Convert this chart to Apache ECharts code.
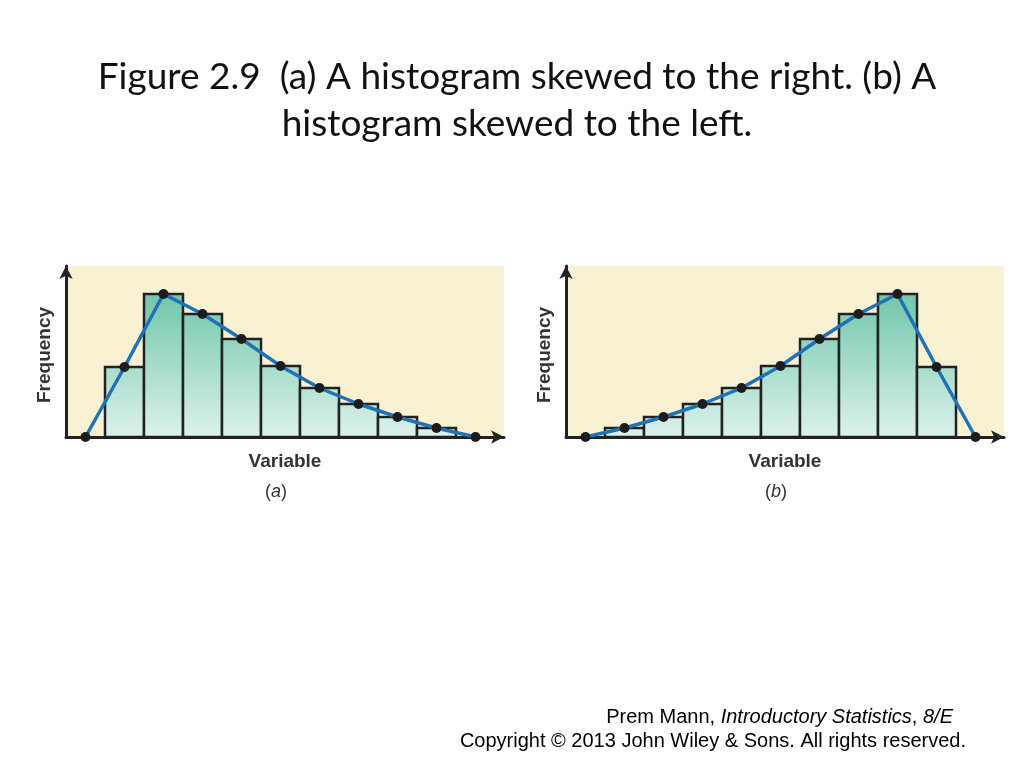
<!DOCTYPE html>
<html>
<head>
<meta charset="utf-8">
<script src="https://cdn.jsdelivr.net/npm/echarts@6/dist/echarts.min.js"></script>
<style>
html,body{margin:0;padding:0;background:#fff;}
#chart{width:1024px;height:768px;}
</style>
</head>
<body>
<div id="chart"></div>
<script>
// Bin centres (in bin-width units) and frequencies
const binCenters = [1.5, 2.5, 3.5, 4.5, 5.5, 6.5, 7.5, 8.5, 9.5];
const freqA = [70, 143, 123, 98, 71, 49, 33, 20, 9];   // skewed right
const freqB = [9, 20, 33, 49, 71, 98, 123, 143, 70];   // skewed left
const polygonEnds = [0.5, 10.5];
const titleLines = ['Figure 2.9  (a) A histogram skewed to the right. (b) A', 'histogram skewed to the left.'];

const chart = echarts.init(document.getElementById('chart'));

const GRID_TOP = 266, GRID_H = 171, GRID_W = 438, BIN_PX = 39;
const XMAX = GRID_W / BIN_PX;
const YMAX = 171;

const barFill = {
  type: 'linear', x: 0, y: GRID_TOP, x2: 0, y2: GRID_TOP + GRID_H, global: true,
  colorStops: [{offset: 0, color: '#5cbe9e'}, {offset: 1, color: '#dcf1eb'}]
};

function histData(freq) { return binCenters.map((c, i) => [c, freq[i]]); }
function polyData(freq) {
  return [[polygonEnds[0], 0]].concat(binCenters.map((c, i) => [c, freq[i]]), [[polygonEnds[1], 0]]);
}

function renderBar(params, api) {
  const c = api.value(0), h = api.value(1);
  const p0 = api.coord([c - 0.5, h]);
  const p1 = api.coord([c + 0.5, 0]);
  return {
    type: 'rect',
    shape: {x: p0[0], y: p0[1], width: p1[0] - p0[0], height: p1[1] - p0[1]},
    style: {fill: barFill, stroke: '#222222', lineWidth: 2.5}
  };
}

function axisPair(idx) {
  const lineStyle = {color: '#222222', width: 3};
  return {
    x: {
      type: 'value', gridIndex: idx, min: 0, max: XMAX,
      axisLine: {show: true, lineStyle, symbol: ['none', 'arrow'], symbolSize: [10, 13]},
      axisTick: {show: false}, axisLabel: {show: false}, splitLine: {show: false},
      name: 'Variable', nameLocation: 'middle', nameGap: 15,
      nameTextStyle: {fontFamily: 'Liberation Sans', fontWeight: 'bold', fontSize: 19, color: '#333', verticalAlign: 'top'}
    },
    y: {
      type: 'value', gridIndex: idx, min: 0, max: YMAX,
      axisLine: {show: true, lineStyle, symbol: ['none', 'arrow'], symbolSize: [10, 13]},
      axisTick: {show: false}, axisLabel: {show: false}, splitLine: {show: false},
      name: 'Frequency', nameLocation: 'middle', nameGap: 12,
      nameTextStyle: {fontFamily: 'Liberation Sans', fontWeight: 'bold', fontSize: 19, color: '#333', verticalAlign: 'bottom', padding: [0, 7, 0, 0]}
    }
  };
}
const axA = axisPair(0), axB = axisPair(1);

function seriesFor(freq, idx) {
  return [
    {type: 'custom', xAxisIndex: idx, yAxisIndex: idx, data: histData(freq), renderItem: renderBar, z: 2, silent: true},
    {type: 'line', xAxisIndex: idx, yAxisIndex: idx, data: polyData(freq), z: 3,
     symbol: 'circle', symbolSize: 10,
     itemStyle: {color: '#1c1c1c'},
     lineStyle: {color: '#1f72b6', width: 3.5}, silent: true}
  ];
}

const italicRich = (size) => ({i: {fontStyle: 'italic', fontFamily: 'Liberation Sans', fontSize: size, fill: '#333'}});

chart.setOption({
  animation: false,
  backgroundColor: '#ffffff',
  title: {
    text: titleLines.join('\n'),
    left: 512, top: 49, textAlign: 'center',
    textStyle: {fontFamily: 'Lato', fontWeight: 'normal', fontSize: 37, lineHeight: 47, color: '#111'}
  },
  grid: [
    {left: 66, top: GRID_TOP, width: GRID_W, height: GRID_H, show: true, backgroundColor: '#f8f2d3', borderWidth: 0},
    {left: 566, top: GRID_TOP, width: GRID_W, height: GRID_H, show: true, backgroundColor: '#f8f2d3', borderWidth: 0}
  ],
  xAxis: [axA.x, axB.x],
  yAxis: [axA.y, axB.y],
  series: seriesFor(freqA, 0).concat(seriesFor(freqB, 1)),
  graphic: [
    {type: 'text', left: 265, top: 483, style: {text: '({i|a})', fontFamily: 'Liberation Sans', fontSize: 18, fill: '#333', rich: italicRich(18)}},
    {type: 'text', left: 765, top: 483, style: {text: '({i|b})', fontFamily: 'Liberation Sans', fontSize: 18, fill: '#333', rich: italicRich(18)}},
    {type: 'text', right: 1024 - 953, top: 707, style: {
      text: 'Prem Mann, {i|Introductory Statistics}, {i|8/E}',
      fontFamily: 'Liberation Sans', fontSize: 20, fill: '#000',
      rich: {i: {fontStyle: 'italic', fontFamily: 'Liberation Sans', fontSize: 20, fill: '#000'}}}},
    {type: 'text', right: 1024 - 966, top: 731, style: {
      text: 'Copyright © 2013 John Wiley & Sons. All rights reserved.',
      fontFamily: 'Liberation Sans', fontSize: 20, fill: '#000'}}
  ]
});
</script>
</body>
</html>
